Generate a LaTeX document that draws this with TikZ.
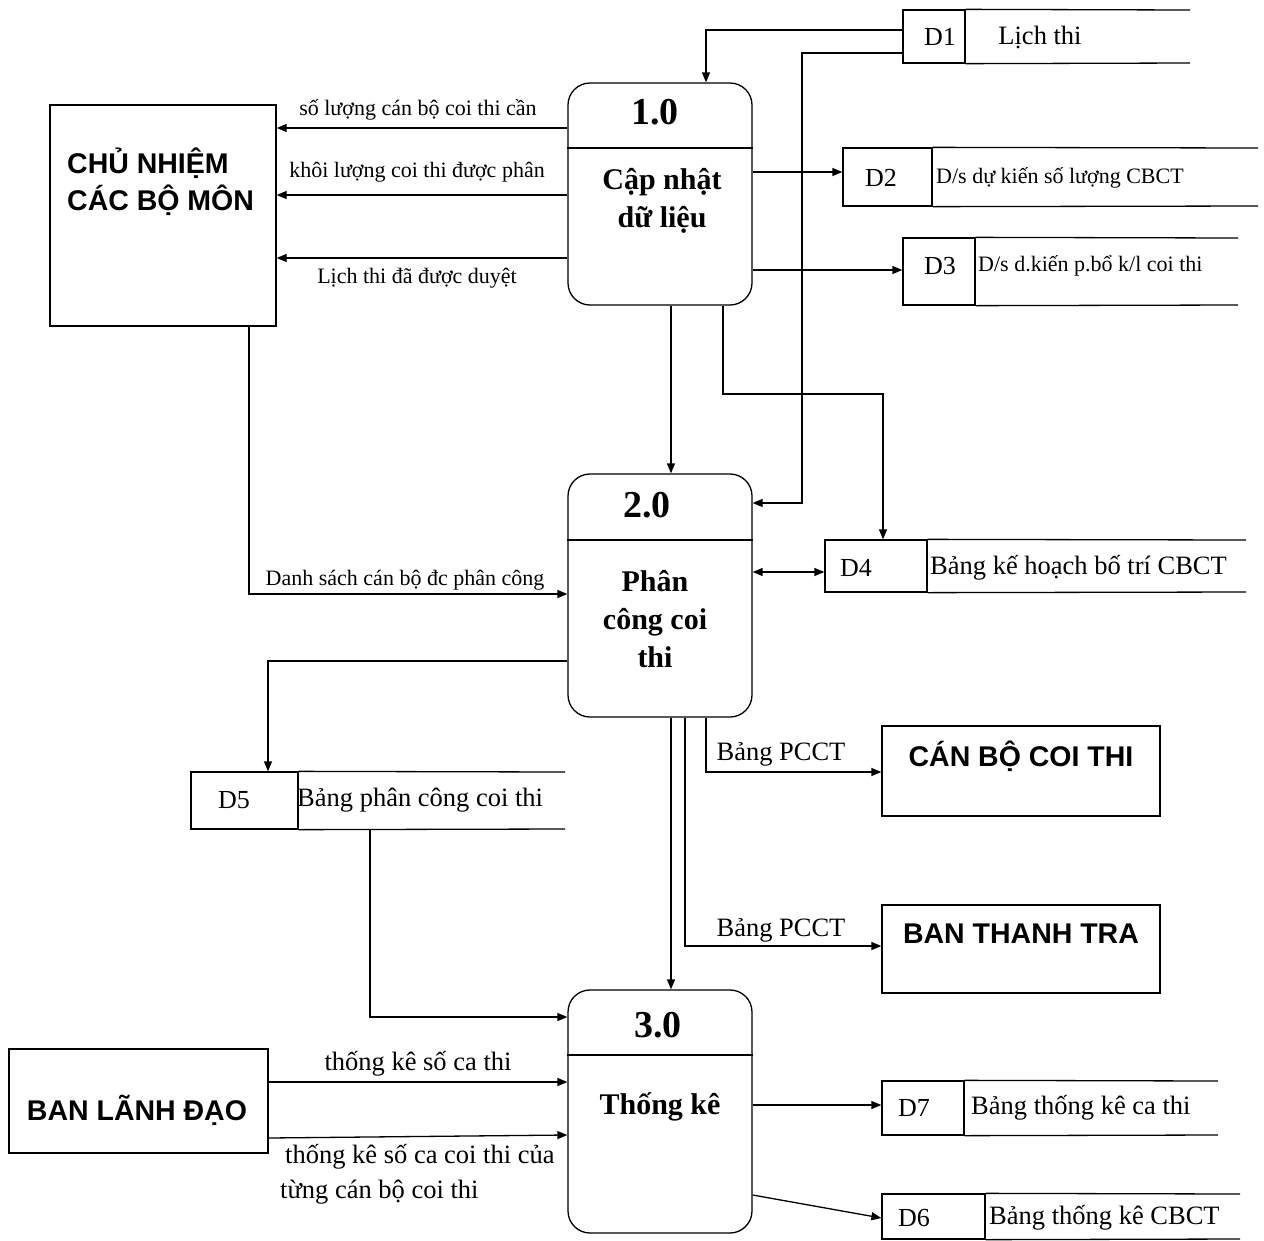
\documentclass[tikz,border=0pt]{standalone}
\usepackage{fontspec}
\setmainfont{Liberation Serif}
\setsansfont{Liberation Sans}
\usetikzlibrary{arrows.meta}
\newcommand\dfstore[6]{%
  \node[cell, minimum width={#3-#2}, minimum height={#5-#4}] (#1) at ({(#2+#3)/2},{(#4+#5)/2}) {};
  \draw[ln] (#1.north east) -- (#6,#4);
  \draw[ln] (#1.south east) -- (#6,#5);}
\begin{document}
\begin{tikzpicture}[x=1pt,y=-1pt,
  ln/.style={line width=1.3pt},
  conn/.style={ln, -{Triangle[length=10pt,width=8pt]}},
  conn2/.style={ln, {Triangle[length=10pt,width=8pt]}-{Triangle[length=10pt,width=8pt]}},
  proc/.style={draw, ln, rounded corners=22pt, inner sep=0pt},
  ent/.style={draw, ln, inner sep=0pt},
  cell/.style={draw, ln, inner sep=0pt},
  ptitle/.style={font=\fontsize{38}{40}\selectfont\bfseries, inner sep=0pt},
  pname/.style={font=\fontsize{30}{38}\selectfont\bfseries, align=center, inner sep=0pt},
  etext/.style={font=\sffamily\bfseries\fontsize{28.5}{37}\selectfont, inner sep=0pt},
  lbl/.style={font=\fontsize{22}{35}\selectfont, inner sep=0pt},
  lblb/.style={font=\fontsize{26.5}{35}\selectfont, inner sep=0pt},
  stxt/.style={font=\fontsize{22}{24}\selectfont, inner sep=0pt},
  stxtb/.style={font=\fontsize{26.5}{28}\selectfont, inner sep=0pt},
  sid/.style={font=\fontsize{26}{28}\selectfont, inner sep=0pt}]
\useasboundingbox[fill=white] (0,0) rectangle (1264,1240);

% processes
\node[proc, minimum width=184pt, minimum height=222pt] (p1) at (660,194) {};
\draw[ln] (p1.west |- 0,148) -- (p1.east |- 0,148);
\node[ptitle] (p1t) at (655,112) {1.0};
\node[pname] (p1n) at (662,201) {Cập nhật\\dữ liệu};

\node[proc, minimum width=184pt, minimum height=243pt] (p2) at (660,595.5) {};
\draw[ln] (p2.west |- 0,540) -- (p2.east |- 0,540);
\node[ptitle] (p2t) at (647,505) {2.0};
\node[pname] (p2n) at (655,619) {Phân\\công coi\\thi};

\node[proc, minimum width=184pt, minimum height=243pt] (p3) at (660,1111.5) {};
\draw[ln] (p3.west |- 0,1055) -- (p3.east |- 0,1055);
\node[ptitle] (p3t) at (658,1025) {3.0};
\node[pname] (p3n) at (660,1107) {Thống kê};

% external entities
\node[ent, minimum width=226pt, minimum height=221pt] (cn) at (163,215.5) {};
\node[etext, anchor=west, align=left] (cnt) at (67,182) {CHỦ NHIỆM\\CÁC BỘ MÔN};
\node[ent, minimum width=278pt, minimum height=90pt] (cb) at (1021,771) {};
\node[etext] (cbt) at (1021,756) {CÁN BỘ COI THI};
\node[ent, minimum width=278pt, minimum height=88pt] (bt) at (1021,949) {};
\node[etext] (btt) at (1021,934) {BAN THANH TRA};
\node[ent, minimum width=259pt, minimum height=104pt] (bl) at (138.5,1101) {};
\node[etext] (blt) at (137,1110) {BAN LÃNH ĐẠO};

% data stores
\dfstore{d1}{903}{965}{10}{63}{1190}
\node[sid] at (940,37) {D1};
\node[stxtb] at (1040,37) {Lịch thi};
\dfstore{d2}{843}{932}{148}{206}{1258}
\node[sid] at (881,178) {D2};
\node[stxt, anchor=west] at (936,178) {D/s dự kiến số lượng CBCT};
\dfstore{d3}{903}{975}{238}{305}{1238}
\node[sid] at (940,266) {D3};
\node[stxt, anchor=west] at (978,266) {D/s d.kiến p.bổ k/l coi thi};
\dfstore{d4}{825}{927}{540}{592}{1246}
\node[sid] at (856,568) {D4};
\node[stxtb, anchor=west] at (930,568) {Bảng kế hoạch bố trí CBCT};
\dfstore{d5}{191}{298}{772}{829}{565}
\node[sid] at (234,800) {D5};
\node[stxtb, anchor=west] at (297,800) {Bảng phân công coi thi};
\dfstore{d7}{882}{964}{1081}{1135}{1218}
\node[sid] at (914,1108) {D7};
\node[stxtb, anchor=west] at (971,1108) {Bảng thống kê ca thi};
\dfstore{d6}{882}{985}{1194}{1239}{1240}
\node[sid] at (914,1218) {D6};
\node[stxtb, anchor=west] at (989,1218) {Bảng thống kê CBCT};

% connectors
\draw[conn] (d1.west |- 0,30) -| (706,0 |- p1.north);
\draw[conn] (d1.west |- 0,53) -| (802,0 |- 0,503) -- (p2.east |- 0,503);
\draw[conn] (p1.west |- 0,128) -- (cn.east |- 0,128);
\node[lbl] at (418,110) {số lượng cán bộ coi thi cần};
\draw[conn] (p1.west |- 0,195) -- (cn.east |- 0,195);
\node[lbl] at (417,172) {khôi lượng coi thi được phân};
\draw[conn] (p1.west |- 0,258) -- (cn.east |- 0,258);
\node[lbl] at (417,278) {Lịch thi đã được duyệt};
\draw[conn] (p1.east |- 0,172) -- (d2.west |- 0,172);
\draw[conn] (p1.east |- 0,270) -- (d3.west |- 0,270);
\draw[conn] (671,0 |- p1.south) -- (671,0 |- p2.north);
\draw[conn] (723,0 |- p1.south) |- (883,394) -- (883,0 |- d4.north);
\draw[conn] (249,0 |- cn.south) |- (p2.west |- 0,594);
\node[lbl] at (405,580) {Danh sách cán bộ đc phân công};
\draw[conn2] (p2.east |- 0,572) -- (d4.west |- 0,572);
\draw[conn] (p2.west |- 0,661) -| (268,0 |- d5.north);
\draw[conn] (706,0 |- p2.south) |- (cb.west |- 0,772);
\node[lblb] at (781,754) {Bảng PCCT};
\draw[conn] (685,0 |- p2.south) |- (bt.west |- 0,946);
\node[lblb] at (781,930) {Bảng PCCT};
\draw[conn] (671,0 |- p2.south) -- (671,0 |- p3.north);
\draw[conn] (370,0 |- d5.south) |- (p3.west |- 0,1017);
\draw[conn] (bl.east |- 0,1082) -- (p3.west |- 0,1082);
\node[lblb] at (418,1064) {thống kê số ca thi};
\draw[conn] (bl.east |- 0,1138) -- (p3.west |- 0,1135);
\node[lblb, anchor=north west, align=left] at (280,1144) {\hspace*{5pt}thống kê số ca coi thi của\\từng cán bộ coi thi};
\draw[conn] (p3.east |- 0,1105) -- (d7.west |- 0,1105);
\draw[conn] (p3.east |- 0,1195) -- (d6.west |- 0,1218);
\end{tikzpicture}
\end{document}
